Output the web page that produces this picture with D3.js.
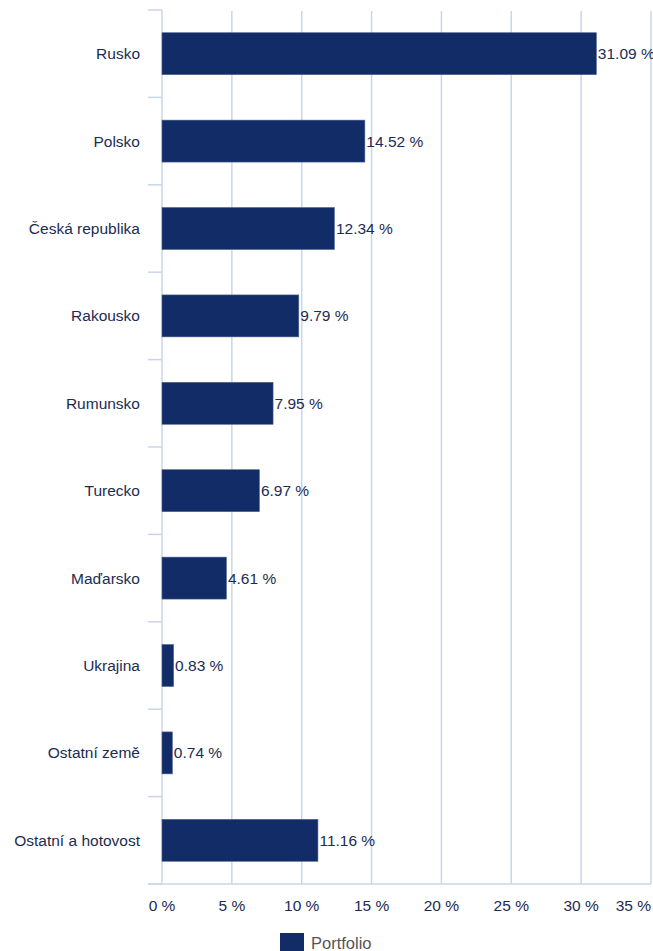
<!DOCTYPE html>
<html>
<head>
<meta charset="utf-8">
<script src="https://cdn.jsdelivr.net/npm/d3@7"></script>
<style>
  body { margin: 0; background: #fff; }
  text { font-family: "Liberation Sans", Arial, Helvetica, sans-serif; }
</style>
</head>
<body>
<div id="chart"></div>
<script>
// data
const countries = ["Rusko", "Polsko", "Česká republika", "Rakousko", "Rumunsko",
  "Turecko", "Maďarsko", "Ukrajina", "Ostatní země", "Ostatní a hotovost"];
const shares = [31.09, 14.52, 12.34, 9.79, 7.95, 6.97, 4.61, 0.83, 0.74, 11.16];
const xTicks = [0, 5, 10, 15, 20, 25, 30, 35];
const seriesName = "Portfolio";

const width = 653, height = 951;
const margin = { top: 10, right: 2, bottom: 67, left: 162 };

const barColor = "#112c66";
const gridColor = "#c9d6ea";
const textColor = "#1c2c52";
const fontSize = 15.5;

const rows = countries.map((c, i) => ({ country: c, value: shares[i] }));

const svg = d3.select("#chart")
  .append("svg")
  .attr("width", width)
  .attr("height", height);

// scales
const x = d3.scaleLinear()
  .domain([0, 35])
  .range([margin.left, width - margin.right]);

const y = d3.scaleBand()
  .domain(countries)
  .range([margin.top, height - margin.bottom])
  .paddingInner(0.52)
  .paddingOuter(0.26);

const step = y.step();
const bandStart = (c) => y(c) - (step - y.bandwidth()) / 2;

// vertical grid lines
svg.append("g")
  .selectAll("line")
  .data(xTicks.slice(1))
  .enter()
  .append("line")
  .attr("x1", (d) => x(d))
  .attr("x2", (d) => x(d))
  .attr("y1", margin.top + 1)
  .attr("y2", height - margin.bottom)
  .attr("stroke", gridColor)
  .attr("stroke-width", 1.5);

// category axis: line plus ticks between categories
const yAxis = svg.append("g");
yAxis.append("line")
  .attr("x1", x(0))
  .attr("x2", x(0))
  .attr("y1", margin.top)
  .attr("y2", height - margin.bottom)
  .attr("stroke", gridColor)
  .attr("stroke-width", 1.5);

const boundaries = countries.map(bandStart).concat([height - margin.bottom]);
yAxis.selectAll(".tick")
  .data(boundaries)
  .enter()
  .append("line")
  .attr("class", "tick")
  .attr("x1", x(0) - 14)
  .attr("x2", x(0))
  .attr("y1", (d) => d)
  .attr("y2", (d) => d)
  .attr("stroke", gridColor)
  .attr("stroke-width", 1.5);

// bottom baseline
svg.append("line")
  .attr("x1", x(0) - 14)
  .attr("x2", width - margin.right)
  .attr("y1", height - margin.bottom)
  .attr("y2", height - margin.bottom)
  .attr("stroke", gridColor)
  .attr("stroke-width", 1.5);

// category labels
yAxis.selectAll(".label")
  .data(countries)
  .enter()
  .append("text")
  .attr("class", "label")
  .attr("x", x(0) - 22)
  .attr("y", (d) => y(d) + y.bandwidth() / 2)
  .attr("dy", "0.35em")
  .attr("text-anchor", "end")
  .attr("font-size", fontSize)
  .attr("fill", textColor)
  .text((d) => d);

// x tick labels (last one pulled inside the edge)
svg.append("g")
  .selectAll("text")
  .data(xTicks)
  .enter()
  .append("text")
  .attr("x", (d, i) => i === xTicks.length - 1 ? width - 2 : x(d))
  .attr("y", height - margin.bottom + 27)
  .attr("text-anchor", (d, i) => i === xTicks.length - 1 ? "end" : "middle")
  .attr("font-size", fontSize)
  .attr("fill", textColor)
  .text((d) => d + " %");

// bars
svg.append("g")
  .selectAll("rect")
  .data(rows)
  .enter()
  .append("rect")
  .attr("x", x(0))
  .attr("y", (d) => y(d.country))
  .attr("width", (d) => x(d.value) - x(0))
  .attr("height", y.bandwidth())
  .attr("fill", barColor)
  .attr("stroke", "#4f6392")
  .attr("stroke-width", 0.6);

// value labels
svg.append("g")
  .selectAll("text")
  .data(rows)
  .enter()
  .append("text")
  .attr("x", (d) => x(d.value) + 1.5)
  .attr("y", (d) => y(d.country) + y.bandwidth() / 2)
  .attr("dy", "0.35em")
  .attr("font-size", fontSize)
  .attr("fill", textColor)
  .text((d) => d.value.toFixed(2) + " %");

// legend
const legend = svg.append("g").attr("transform", "translate(280, 933)");
legend.append("rect")
  .attr("width", 24)
  .attr("height", 18)
  .attr("fill", barColor);
legend.append("text")
  .attr("x", 31)
  .attr("y", 16)
  .attr("font-size", 16.5)
  .attr("fill", "#555")
  .text(seriesName);
</script>
</body>
</html>
